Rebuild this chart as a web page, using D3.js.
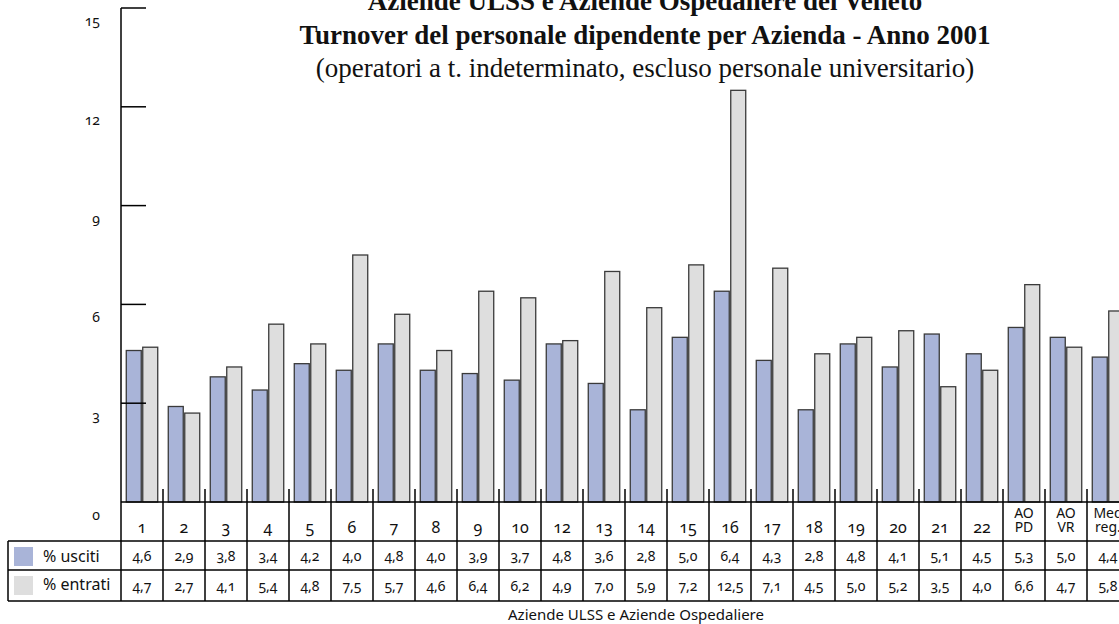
<!DOCTYPE html>
<html>
<head>
<meta charset="utf-8">
<script src="https://d3js.org/d3.v7.min.js"></script>
<style>
  body { margin: 0; background: #fff; }
  svg { display: block; }
  .num { font-family: "Noto Sans", sans-serif; font-variant-numeric: oldstyle-nums; fill: #111; }
  .ttl { font-family: "Liberation Serif", "Times New Roman", serif; fill: #111; }
</style>
</head>
<body>
<div id="chart"></div>
<script>
var categories = ["1","2","3","4","5","6","7","8","9","10","12","13","14","15","16","17","18","19","20","21","22","AO PD","AO VR","Med reg."];
var usciti  = [4.6,2.9,3.8,3.4,4.2,4.0,4.8,4.0,3.9,3.7,4.8,3.6,2.8,5.0,6.4,4.3,2.8,4.8,4.1,5.1,4.5,5.3,5.0,4.4];
var entrati = [4.7,2.7,4.1,5.4,4.8,7.5,5.7,4.6,6.4,6.2,4.9,7.0,5.9,7.2,12.5,7.1,4.5,5.0,5.2,3.5,4.0,6.6,4.7,5.8];
var seriesNames = ["% usciti", "% entrati"];
var seriesColors = ["#a9b4d8", "#dedede"];
var yTicks = [0, 3, 6, 9, 12, 15];

var W = 1119, H = 624;
var x0 = 121, colW = 42, yBase = 502, yTop = 8;
var row1 = 541, row2 = 570, row3 = 601;

var svg = d3.select("#chart").append("svg")
    .attr("width", W).attr("height", H);

var x = d3.scaleBand().domain(categories)
    .range([x0, x0 + colW * categories.length]).padding(0);
var xs = d3.scaleBand().domain([0, 1])
    .range([0, colW]).paddingInner(0.09).paddingOuter(0.32);
var y = d3.scaleLinear().domain([0, 15]).range([yBase, yTop]);

// title
var titles = [
  {t: "Aziende ULSS e Aziende Ospedaliere del Veneto", y: 10, w: "bold"},
  {t: "Turnover del personale dipendente per Azienda - Anno 2001", y: 44, w: "bold"},
  {t: "(operatori a t. indeterminato, escluso personale universitario)", y: 77, w: "normal"}
];
svg.selectAll(".ttl").data(titles).enter().append("text")
    .attr("class", "ttl")
    .attr("x", 645).attr("y", function(d) { return d.y; })
    .attr("text-anchor", "middle")
    .style("font-size", "27px")
    .style("font-weight", function(d) { return d.w; })
    .text(function(d) { return d.t; });

// bars
var data = [];
categories.forEach(function(c, i) {
  data.push({c: c, s: 0, v: usciti[i]});
  data.push({c: c, s: 1, v: entrati[i]});
});
svg.append("g").selectAll("rect").data(data).enter().append("rect")
    .attr("x", function(d) { return x(d.c) + xs(d.s); })
    .attr("y", function(d) { return y(d.v); })
    .attr("width", xs.bandwidth())
    .attr("height", function(d) { return yBase - y(d.v); })
    .attr("fill", function(d) { return seriesColors[d.s]; })
    .attr("stroke", "#3a3a3a")
    .attr("stroke-width", 1.3);

// y axis
var yAxis = svg.append("g");
yAxis.append("line")
    .attr("x1", x0).attr("x2", x0).attr("y1", yTop).attr("y2", yBase)
    .attr("stroke", "#000").attr("stroke-width", 1.5);
yAxis.selectAll(".tk").data(yTicks.filter(function(d) { return d > 0; })).enter().append("line")
    .attr("x1", x0).attr("x2", x0 + 25)
    .attr("y1", function(d) { return y(d); }).attr("y2", function(d) { return y(d); })
    .attr("stroke", "#000").attr("stroke-width", 1.5);
yAxis.selectAll("text").data(yTicks).enter().append("text")
    .attr("class", "num")
    .attr("x", 100).attr("y", function(d) { return y(d) + 18; })
    .attr("text-anchor", "end")
    .style("font-size", "14px")
    .text(function(d) { return d; });

// table lines
var g = svg.append("g").attr("stroke", "#000").attr("stroke-width", 1.5);
g.append("line").attr("x1", x0).attr("x2", W).attr("y1", yBase).attr("y2", yBase);
[row1, row2, row3].forEach(function(yy) {
  g.append("line").attr("x1", 8).attr("x2", W).attr("y1", yy).attr("y2", yy);
});
g.append("line").attr("x1", 8).attr("x2", 8).attr("y1", row1).attr("y2", row3);
g.append("line").attr("x1", x0).attr("x2", x0).attr("y1", yBase).attr("y2", row3);
g.selectAll(".vl").data(categories.slice(1)).enter().append("line")
    .attr("x1", function(d) { return x(d); }).attr("x2", function(d) { return x(d); })
    .attr("y1", yBase - 13).attr("y2", row3);

// category labels
var cl = svg.append("g").selectAll("text").data(categories).enter().append("text")
    .attr("class", "num")
    .attr("text-anchor", "middle")
    .attr("x", function(d) { return x(d) + colW / 2; });
cl.each(function(d) {
  var parts = d.split(" ");
  var t = d3.select(this);
  if (parts.length === 1) {
    t.attr("y", 533).style("font-size", "16px").text(d);
  } else {
    t.style("font-size", "14px");
    t.append("tspan").attr("x", x(d) + colW / 2).attr("y", 518).text(parts[0]);
    t.append("tspan").attr("x", x(d) + colW / 2).attr("y", 532).text(parts[1]);
  }
});

// value rows
[usciti, entrati].forEach(function(vals, si) {
  var yy = si === 0 ? 561 : 591;
  svg.append("g").selectAll("text").data(vals).enter().append("text")
      .attr("class", "num")
      .attr("text-anchor", "middle")
      .style("font-size", "14px")
      .attr("x", function(d, i) { return x(categories[i]) + colW / 2; })
      .attr("y", yy)
      .text(function(d) { return d.toFixed(1).replace(".", ","); });
  svg.append("rect")
      .attr("x", 14).attr("y", si === 0 ? 547 : 576)
      .attr("width", 19).attr("height", 19)
      .attr("fill", seriesColors[si]);
  svg.append("text")
      .attr("class", "num")
      .attr("x", 43).attr("y", si === 0 ? 562 : 590)
      .style("font-size", "16px")
      .text(seriesNames[si]);
});

// x axis title
svg.append("text")
    .attr("class", "num")
    .attr("x", 636).attr("y", 620)
    .attr("text-anchor", "middle")
    .style("font-size", "15px")
    .text("Aziende ULSS e Aziende Ospedaliere");
</script>
</body>
</html>
